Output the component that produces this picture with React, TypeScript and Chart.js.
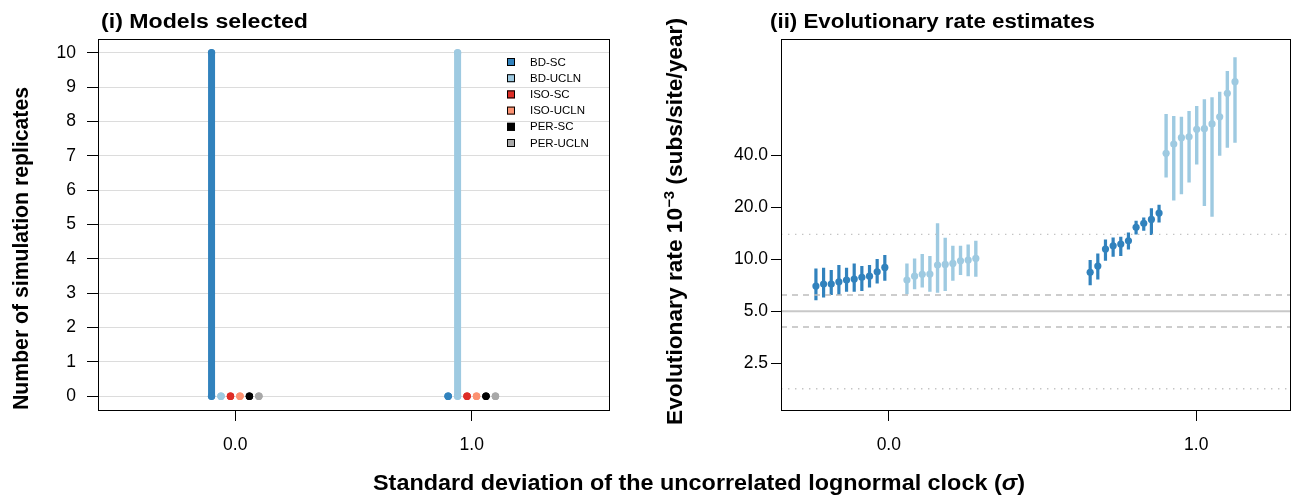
import React, { useEffect, useRef } from 'react';
import { Chart, registerables } from 'chart.js';
Chart.register(...registerables);

const FONT = '"Liberation Sans", Arial, Helvetica, sans-serif';

// ---------------- data ----------------
const models = ['BD-SC', 'BD-UCLN', 'ISO-SC', 'ISO-UCLN', 'PER-SC', 'PER-UCLN'];
const modelColors = ['#3182bd', '#9ecae1', '#de2d26', '#fc9272', '#000000', '#a8a8a8'];
const sigmaValues = [0, 1];
const countTicks = [0, 1, 2, 3, 4, 5, 6, 7, 8, 9, 10];
const replicatesSigma0 = [10, 0, 0, 0, 0, 0];
const replicatesSigma1 = [0, 10, 0, 0, 0, 0];

const rateTicks = [2.5, 5, 10, 20, 40];
const trueRate = 5.0;
const dashedBand = [4.05, 6.2];
const dottedBand = [1.78, 13.9];

// BD-SC, sigma = 0
const bdscS0Mean = [6.98, 7.17, 7.17, 7.39, 7.56, 7.66, 7.84, 7.97, 8.44, 8.95];
const bdscS0Low = [5.79, 6.0, 6.19, 6.19, 6.47, 6.47, 6.53, 6.86, 7.23, 7.49];
const bdscS0High = [8.83, 8.9, 8.64, 9.23, 8.9, 9.44, 9.11, 9.23, 10.0, 10.55];
// BD-UCLN, sigma = 0
const bduclnS0Mean = [7.56, 7.97, 8.16, 8.19, 9.23, 9.32, 9.44, 9.78, 9.87, 10.09];
const bduclnS0Low = [6.27, 6.7, 6.86, 6.47, 6.38, 6.53, 7.49, 8.08, 7.97, 7.9];
const bduclnS0High = [9.44, 10.09, 10.69, 10.41, 16.1, 13.28, 11.94, 11.94, 12.16, 12.76];
// BD-SC, sigma = 1
const bdscS1Mean = [8.38, 9.11, 11.43, 11.94, 12.21, 12.76, 15.26, 16.1, 16.97, 18.46];
const bdscS1Low = [7.07, 7.63, 9.78, 10.31, 10.41, 11.38, 13.9, 14.58, 13.77, 16.31];
const bdscS1High = [9.87, 10.79, 13.0, 13.35, 13.46, 14.27, 16.66, 17.43, 19.66, 20.62];
// BD-UCLN, sigma = 1
const bduclnS1Mean = [40.9, 46.3, 50.4, 51.0, 56.3, 56.8, 60.5, 66.6, 91.0, 106.3];
const bduclnS1Low = [29.7, 21.8, 23.7, 27.7, 35.3, 20.3, 17.6, 39.6, 44.1, 47.1];
const bduclnS1High = [69.1, 67.3, 66.6, 71.9, 76.9, 84.0, 86.3, 93.0, 122.6, 147.1];

// ---------------- layout helpers ----------------
const modelOffsets = [-0.1, -0.06, -0.02, 0.02, 0.06, 0.1];
const replicateStep = 0.0249;
const groupStarts = { bdscS0: -0.237, bduclnS0: 0.059, bdscS1: 0.655, bduclnS1: 0.902 };
const leftX = { min: -0.58, max: 1.58 };
const leftY = { min: -0.4, max: 10.4 };
const rightX = { min: -0.3506, max: 1.305 };
const rightY = { min: 1.34, max: 187.6 };

const framePlugin = {
  id: 'frame',
  afterDraw(chart: any) {
    const { ctx, chartArea: a } = chart;
    ctx.save();
    ctx.strokeStyle = '#000';
    ctx.lineWidth = 1;
    ctx.strokeRect(Math.round(a.left) + 0.5, Math.round(a.top) + 0.5, Math.round(a.right - a.left), Math.round(a.bottom - a.top));
    ctx.restore();
  },
};

const legendPlugin = {
  id: 'modelLegend',
  afterDraw(chart: any) {
    const { ctx, chartArea: a } = chart;
    ctx.save();
    ctx.font = `11.5px ${FONT}`;
    ctx.textBaseline = 'middle';
    ctx.textAlign = 'left';
    models.forEach((m, i) => {
      const y = a.top + 23 + i * 16.2;
      const x = a.right - 102;
      ctx.fillStyle = modelColors[i];
      ctx.fillRect(x, y - 4, 8, 8);
      ctx.strokeStyle = '#000';
      ctx.lineWidth = 1;
      ctx.strokeRect(x + 0.5, y - 3.5, 7, 7);
      ctx.fillStyle = '#000';
      ctx.fillText(m, x + 23, y + 0.5);
    });
    ctx.restore();
  },
};

function fixedTicks(values: number[]) {
  return (scale: any) => {
    scale.ticks = values.map((v) => ({ value: v }));
  };
}

function leftDatasets() {
  const ds: any[] = [];
  models.forEach((m, i) => {
    [replicatesSigma0, replicatesSigma1].forEach((counts, s) => {
      const x = sigmaValues[s] + modelOffsets[i];
      ds.push({
        label: m,
        data: [
          { x, y: 0 },
          { x, y: counts[i] },
        ],
        borderColor: modelColors[i],
        backgroundColor: modelColors[i],
        borderWidth: 7,
        borderCapStyle: 'round',
        pointRadius: 3.7,
        pointBorderWidth: 0,
        pointBackgroundColor: modelColors[i],
        pointHoverRadius: 3.7,
      });
    });
  });
  return ds;
}

function barData(start: number, low: number[], high: number[]) {
  const out: any[] = [];
  low.forEach((lo, i) => {
    const x = start + i * replicateStep;
    out.push({ x, y: lo }, { x, y: high[i] }, { x, y: null });
  });
  return out;
}
function meanData(start: number, mean: number[]) {
  return mean.map((v, i) => ({ x: start + i * replicateStep, y: v }));
}
function hline(y: number, color: string, width: number, dash: number[]) {
  return {
    data: [
      { x: rightX.min, y },
      { x: rightX.max, y },
    ],
    borderColor: color,
    borderWidth: width,
    borderDash: dash,
    pointRadius: 0,
  };
}

function rightDatasets() {
  const dark = modelColors[0];
  const light = modelColors[1];
  const bars = (start: number, lo: number[], hi: number[], color: string, w: number) => ({
    data: barData(start, lo, hi),
    borderColor: color,
    borderWidth: w,
    borderCapStyle: 'butt',
    pointRadius: 0,
    spanGaps: false,
  });
  const pts = (start: number, mean: number[], color: string) => ({
    data: meanData(start, mean),
    showLine: false,
    pointRadius: 3.6,
    pointBorderWidth: 0,
    pointBackgroundColor: color,
    borderColor: color,
  });
  return [
    hline(trueRate, '#c8c8c8', 2, []),
    hline(dashedBand[0], '#bdbdbd', 1.4, [6, 5]),
    hline(dashedBand[1], '#bdbdbd', 1.4, [6, 5]),
    hline(dottedBand[0], '#c4c4c4', 1.4, [1.4, 5.6]),
    hline(dottedBand[1], '#c4c4c4', 1.4, [1.4, 5.6]),
    bars(groupStarts.bdscS0, bdscS0Low, bdscS0High, dark, 3.2),
    bars(groupStarts.bduclnS0, bduclnS0Low, bduclnS0High, light, 3.4),
    bars(groupStarts.bdscS1, bdscS1Low, bdscS1High, dark, 3.2),
    bars(groupStarts.bduclnS1, bduclnS1Low, bduclnS1High, light, 3.4),
    pts(groupStarts.bdscS0, bdscS0Mean, dark),
    pts(groupStarts.bduclnS0, bduclnS0Mean, light),
    pts(groupStarts.bdscS1, bdscS1Mean, dark),
    pts(groupStarts.bduclnS1, bduclnS1Mean, light),
  ];
}

const tickFont = { family: FONT, size: 17.5 };

function xScale(range: { min: number; max: number }) {
  return {
    type: 'linear',
    min: range.min,
    max: range.max,
    afterBuildTicks: fixedTicks(sigmaValues),
    afterFit: (s: any) => {
      s.height = 50;
    },
    ticks: {
      callback: (v: any) => Number(v).toFixed(1),
      font: tickFont,
      color: '#000',
      padding: 14,
      maxRotation: 0,
      autoSkip: false,
    },
    grid: { drawOnChartArea: false, drawTicks: true, tickLength: 11, tickColor: '#000', tickWidth: 1 },
    border: { display: false },
  };
}

export default function App() {
  const leftRef = useRef<HTMLCanvasElement>(null);
  const rightRef = useRef<HTMLCanvasElement>(null);

  useEffect(() => {
    Chart.defaults.font.family = FONT;
    const left = new Chart(leftRef.current as HTMLCanvasElement, {
      type: 'line',
      data: { datasets: leftDatasets() },
      options: {
        animation: false,
        responsive: false,
        events: [],
        layout: { padding: { top: 39, right: 31, bottom: 38, left: 0 } },
        plugins: { legend: { display: false }, tooltip: { enabled: false } },
        scales: {
          x: xScale(leftX) as any,
          y: {
            type: 'linear',
            min: leftY.min,
            max: leftY.max,
            afterBuildTicks: fixedTicks(countTicks),
            afterFit: (s: any) => {
              s.width = 98;
            },
            ticks: { font: tickFont, color: '#000', padding: 11, callback: (v: any) => String(v) },
            grid: { color: '#dcdcdc', lineWidth: 1, drawTicks: true, tickLength: 11, tickColor: '#000', tickWidth: 1 },
            border: { display: false },
          },
        },
      },
      plugins: [framePlugin, legendPlugin],
    } as any);

    const right = new Chart(rightRef.current as HTMLCanvasElement, {
      type: 'line',
      data: { datasets: rightDatasets() },
      options: {
        animation: false,
        responsive: false,
        events: [],
        layout: { padding: { top: 39, right: 3, bottom: 38, left: 0 } },
        plugins: { legend: { display: false }, tooltip: { enabled: false } },
        scales: {
          x: xScale(rightX) as any,
          y: {
            type: 'logarithmic',
            min: rightY.min,
            max: rightY.max,
            afterBuildTicks: fixedTicks(rateTicks),
            afterFit: (s: any) => {
              s.width = 141;
            },
            ticks: { font: tickFont, color: '#000', padding: 3, callback: (v: any) => Number(v).toFixed(1) },
            grid: { drawOnChartArea: false, drawTicks: true, tickLength: 10, tickColor: '#000', tickWidth: 1 },
            border: { display: false },
          },
        },
      },
      plugins: [framePlugin],
    } as any);

    return () => {
      left.destroy();
      right.destroy();
    };
  }, []);

  return (
    <div style={{ position: 'absolute', left: 0, top: 0, width: 1294, height: 498, background: '#fff', overflow: 'hidden' }}>
      <canvas ref={leftRef} width={640} height={498} style={{ position: 'absolute', left: 0, top: 0, width: 640, height: 498 }} />
      <canvas ref={rightRef} width={654} height={498} style={{ position: 'absolute', left: 640, top: 0, width: 654, height: 498 }} />
      <svg width={1294} height={498} style={{ position: 'absolute', left: 0, top: 0, pointerEvents: 'none' }} fontFamily={FONT} fontWeight="bold" fill="#000">
        <text x={101} y={27.5} fontSize={19.5} textLength={207} lengthAdjust="spacingAndGlyphs">
          (i) Models selected
        </text>
        <text x={770} y={27.5} fontSize={19.5} textLength={325} lengthAdjust="spacingAndGlyphs">
          (ii) Evolutionary rate estimates
        </text>
        <text transform="translate(28,248.5) rotate(-90)" textAnchor="middle" fontSize={21.5} textLength={323} lengthAdjust="spacingAndGlyphs">
          Number of simulation replicates
        </text>
        <text transform="translate(682,221.5) rotate(-90)" textAnchor="middle" fontSize={21.5} textLength={407} lengthAdjust="spacingAndGlyphs">
          Evolutionary rate 10<tspan fontSize={14} dy={-8}>−3</tspan>
          <tspan dy={8}> (subs/site/year)</tspan>
        </text>
        <text x={699} y={490} textAnchor="middle" fontSize={22} textLength={652} lengthAdjust="spacingAndGlyphs">
          Standard deviation of the uncorrelated lognormal clock (<tspan fontStyle="italic">σ</tspan>)
        </text>
      </svg>
    </div>
  );
}
